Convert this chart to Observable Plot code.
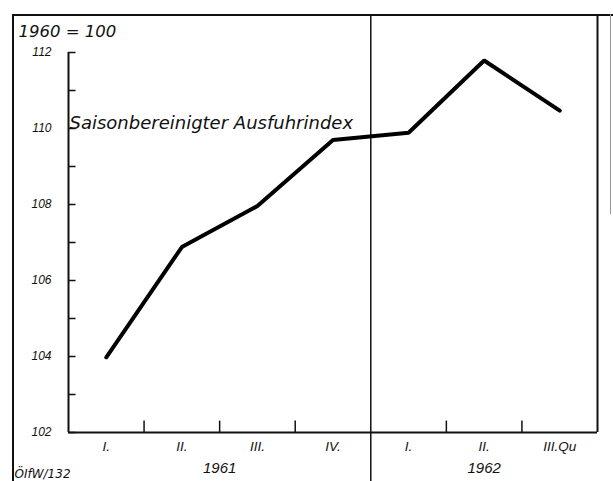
<!DOCTYPE html>
<html>
<head>
<meta charset="utf-8">
<script src="https://cdn.jsdelivr.net/npm/d3@7"></script>
<script src="https://cdn.jsdelivr.net/npm/@observablehq/plot@0.6"></script>
<style>
  html, body { margin: 0; padding: 0; background: #fff; }
  #wrap { position: relative; width: 613px; height: 481px; overflow: hidden; }
  .fl { position: absolute; background: #111; }
</style>
</head>
<body>
<div id="wrap">
  <div class="fl" style="left:12px; top:14px; width:2px; height:467px;"></div>
  <div class="fl" style="left:12px; top:14px; width:601px; height:2px;"></div>
  <div class="fl" style="left:610px; top:14px; width:1px; height:200px; background:#999;"></div>
</div>
<script>
// ---- data ----
const quarters = ["I.", "II.", "III.", "IV.", "I.", "II.", "III.Qu"];
const years    = ["1961", "1961", "1961", "1961", "1962", "1962", "1962"];
const values   = [103.98, 106.88, 107.96, 109.70, 109.89, 111.79, 110.47];
const yearLabels = ["1961", "1962"];
const yTicks     = [102, 104, 106, 108, 110, 112];
const yMinor     = [103, 105, 107, 109, 111];
const baseTitle  = "1960 = 100";
const seriesLabel = "Saisonbereinigter Ausfuhrindex";
const source     = "ÖIfW/132";

// ---- derived tables ----
const rows = values.map((v, i) => ({i, x: i + 0.5, q: quarters[i], year: years[i], v}));
const yearRows = yearLabels.map(y => {
  const idx = rows.filter(r => r.year === y).map(r => r.i);
  return {year: y, x: (d3.min(idx) + d3.max(idx) + 1) / 2};
});
const yearStarts = yearLabels.slice(1).map(y => rows.find(r => r.year === y).i);
const boundaries = d3.range(1, quarters.length).filter(b => !yearStarts.includes(b));
const n = quarters.length;
const yMin = d3.min(yTicks), yMax = d3.max(yTicks);

const font = "'Liberation Sans', 'DejaVu Sans', sans-serif";
const wide = "'DejaVu Sans', sans-serif";

const chart = Plot.plot({
  width: 613,
  height: 481,
  marginLeft: 68,
  marginRight: 16,
  marginTop: 52,
  marginBottom: 49,
  style: {fontFamily: font, background: "transparent", color: "#111"},
  x: {domain: [0, n], axis: null},
  y: {domain: [yMin, yMax], axis: null},
  marks: [
    // y axis line and baseline
    Plot.ruleX([0], {y1: yMin, y2: yMax, stroke: "#111", strokeWidth: 2}),
    Plot.ruleY([yMin], {x1: 0, x2: n, stroke: "#111", strokeWidth: 2}),
    // right inner border
    Plot.ruleX([n], {y1: yMin, y2: yMax + 1, stroke: "#111", strokeWidth: 2, clip: false}),
    // year divider
    Plot.ruleX(yearStarts, {y1: yMin - 1.3, y2: yMax + 1, stroke: "#111", strokeWidth: 1.5, clip: false}),
    // y ticks (inward)
    Plot.ruleY(yTicks.concat(yMinor), {x1: 0, x2: 0.1, stroke: "#111", strokeWidth: 1.5}),
    // x ticks (upward) at quarter boundaries
    Plot.ruleX(boundaries, {y1: yMin, y2: yMin + 0.3, stroke: "#111", strokeWidth: 1.5}),
    // y tick labels
    Plot.text(yTicks, {x: 0, y: d => d, text: d => String(d), textAnchor: "end", dx: -17,
      fontSize: 12, fontStyle: "italic", fill: "#111"}),
    // quarter labels
    Plot.text(rows, {x: "x", y: yMin, text: "q", dy: 14, fontSize: 13.5, fontStyle: "italic", fill: "#111"}),
    // year labels
    Plot.text(yearRows, {x: "x", y: yMin, text: "year", dy: 36, fontSize: 15, fontStyle: "italic", fill: "#111"}),
    // the series
    Plot.line(rows, {x: "x", y: "v", stroke: "#000", strokeWidth: 4, strokeLinejoin: "miter"}),
    // series label
    Plot.text([seriesLabel], {x: 0, y: 110.13, text: d => d, textAnchor: "start", dx: 1,
      fontSize: 18, fontStyle: "italic", fontFamily: wide, fill: "#111"}),
    // base title
    Plot.text([baseTitle], {frameAnchor: "top-left", text: d => d, dx: -50, dy: -27,
      fontSize: 16.5, fontStyle: "italic", fontFamily: wide, fill: "#111", textAnchor: "start"}),
    // source
    Plot.text([source], {frameAnchor: "bottom-left", text: d => d, dx: -54, dy: 45,
      fontSize: 12, fontStyle: "italic", fontFamily: wide, fill: "#111", textAnchor: "start"})
  ]
});
chart.style.position = "absolute";
chart.style.left = "0px";
chart.style.top = "0px";
document.getElementById("wrap").appendChild(chart);
</script>
</body>
</html>
